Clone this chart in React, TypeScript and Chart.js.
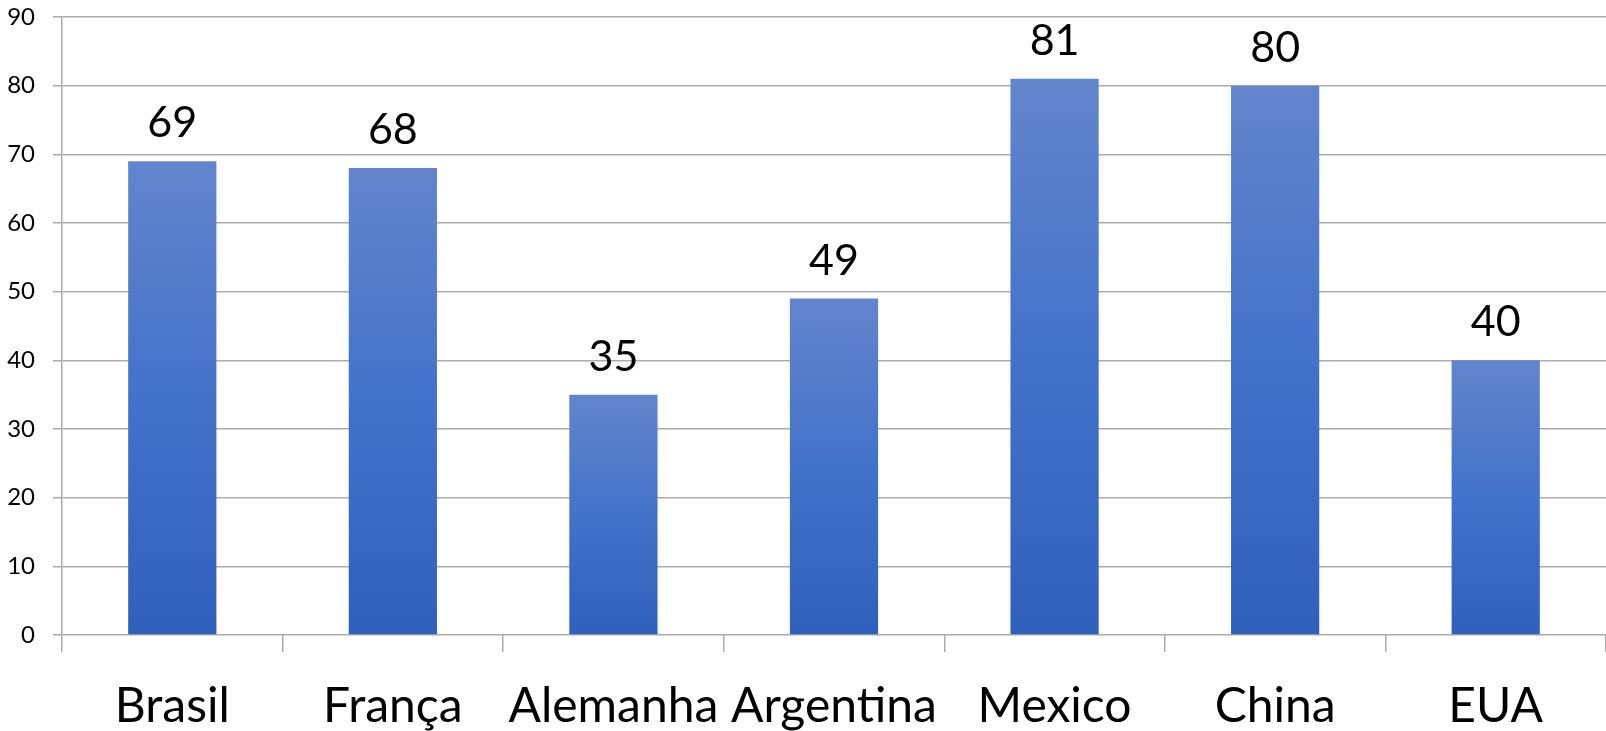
import React, { useEffect, useRef } from "react";
import { Chart, registerables } from "chart.js";

Chart.register(...registerables);

const categories = ["Brasil", "França", "Alemanha", "Argentina", "Mexico", "China", "EUA"];
const values = [69, 68, 35, 49, 81, 80, 40];
const yTicks = [0, 10, 20, 30, 40, 50, 60, 70, 80, 90];

const FONT = "Lato, 'Open Sans', sans-serif";
const GRID = "#ABABAB";

const labelPlugin = {
  id: "barLabels",
  afterDatasetsDraw(chart: any) {
    const ctx = chart.ctx;
    const meta = chart.getDatasetMeta(0);
    ctx.save();
    ctx.font = `43px ${FONT}`;
    ctx.fillStyle = "#000";
    ctx.textAlign = "center";
    ctx.textBaseline = "alphabetic";
    meta.data.forEach((bar: any, i: number) => {
      ctx.fillText(String(values[i]), bar.x, bar.y - 24);
    });
    ctx.restore();
  },
};

export default function App() {
  const ref = useRef<HTMLCanvasElement | null>(null);
  useEffect(() => {
    document.body.style.margin = "0";
    const canvas = ref.current!;
    const chart = new Chart(canvas, {
      type: "bar",
      data: {
        labels: categories,
        datasets: [
          {
            data: values,
            barPercentage: 0.4,
            categoryPercentage: 1,
            backgroundColor: (c: any) => {
              const ch = c.chart;
              const ys = ch.scales && ch.scales.y;
              if (!ys || !ch.chartArea || c.raw === undefined) return "#4472C4";
              const top = ys.getPixelForValue(c.raw);
              const bottom = ys.getPixelForValue(0);
              if (!isFinite(top) || !isFinite(bottom) || top === bottom) return "#4472C4";
              const g = ch.ctx.createLinearGradient(0, top, 0, bottom);
              g.addColorStop(0, "#6285CC");
              g.addColorStop(0.5, "#4372CA");
              g.addColorStop(1, "#2F60BC");
              return g;
            },
            borderWidth: 0,
          },
        ],
      },
      options: {
        animation: false,
        responsive: false,
        maintainAspectRatio: false,
        layout: { padding: { top: 17, right: 0, left: 0, bottom: 0 } },
        plugins: { legend: { display: false }, tooltip: { enabled: false } },
        scales: {
          x: {
            offset: true,
            grid: {
              offset: true,
              drawOnChartArea: false,
              drawTicks: true,
              tickLength: 17,
              color: GRID,
              lineWidth: 1.5,
            },
            border: { display: false },
            ticks: {
              autoSkip: false,
              maxRotation: 0,
              minRotation: 0,
              color: "#000",
              font: { family: FONT, size: 48 },
              padding: 26,
            },
            afterFit: (s: any) => {
              s.height = 96;
              s.paddingLeft = 0;
              s.paddingRight = 0;
            },
          },
          y: {
            min: 0,
            max: 90,
            afterBuildTicks: (s: any) => {
              s.ticks = yTicks.map((v) => ({ value: v }));
            },
            grid: {
              color: GRID,
              lineWidth: 1.5,
              drawTicks: true,
              tickLength: 9,
            },
            border: { display: true, color: GRID, width: 1.5 },
            ticks: {
              color: "#000",
              font: { family: FONT, size: 24 },
              padding: 18,
            },
            afterFit: (s: any) => {
              s.width = 62;
              s.paddingTop = 0;
              s.paddingBottom = 0;
            },
          },
        },
      },
      plugins: [labelPlugin],
    });
    return () => chart.destroy();
  }, []);
  return (
    <div style={{ position: "absolute", left: 0, top: 0, width: 1606, height: 731 }}>
      <canvas ref={ref} width={1606} height={731} style={{ width: 1606, height: 731 }} />
    </div>
  );
}
